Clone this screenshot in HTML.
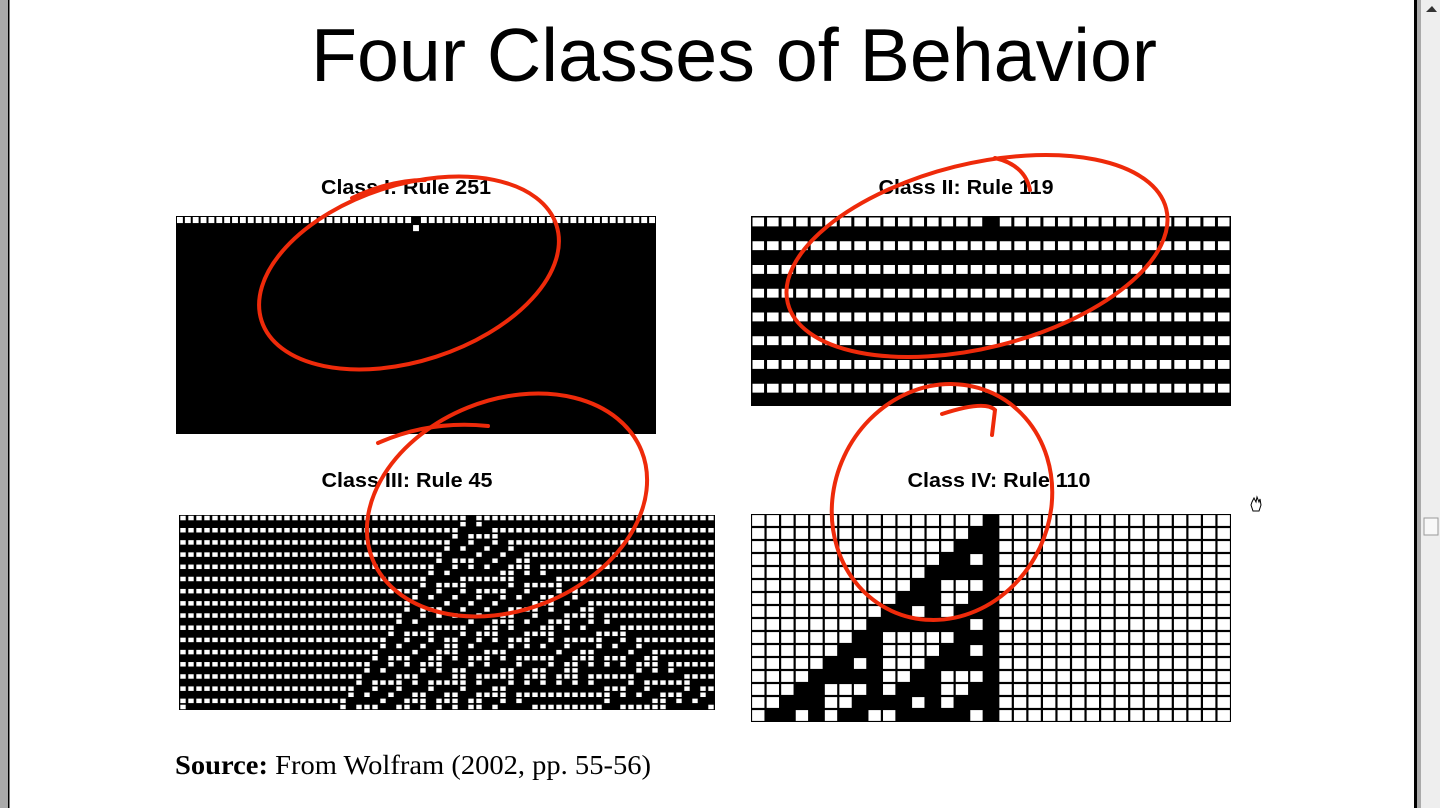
<!DOCTYPE html>
<html><head><meta charset="utf-8">
<style>
html,body{margin:0;padding:0;background:#fff;}
body{width:1440px;height:808px;position:relative;overflow:hidden;font-family:"Liberation Sans",sans-serif;}
</style></head>
<body>
<svg id="s" width="1440" height="808" xmlns="http://www.w3.org/2000/svg" style="position:absolute;left:0;top:0">
<rect x="0" y="0" width="8" height="808" fill="#aaaaaa"/>
<rect x="8" y="0" width="1.5" height="808" fill="#000"/>
<rect x="1414" y="0" width="3" height="808" fill="#000"/>
<rect x="1417" y="0" width="4" height="808" fill="#aaa"/>
<rect x="1421" y="0" width="19" height="808" fill="#eeeeee"/>
<rect x="1424" y="518" width="14" height="17" fill="#f8f8f8" stroke="#999"/>
<path d="M1426 12 L1432 6 L1437 12 Z" fill="#333"/>
<text x="734" y="81" font-size="75" text-anchor="middle" textLength="846" lengthAdjust="spacingAndGlyphs" font-family="Liberation Sans,sans-serif" fill="#000">Four Classes of Behavior</text>
<g font-weight="bold" font-size="20" text-anchor="middle" fill="#000">
<text x="406" y="194" textLength="170" lengthAdjust="spacingAndGlyphs">Class I: Rule 251</text>
<text x="966" y="194" textLength="175" lengthAdjust="spacingAndGlyphs">Class II: Rule 119</text>
<text x="407" y="487" textLength="171" lengthAdjust="spacingAndGlyphs">Class III: Rule 45</text>
<text x="999" y="487" textLength="183" lengthAdjust="spacingAndGlyphs">Class IV: Rule 110</text>
</g>
<text x="175" y="774" font-size="27" font-family="Liberation Serif,serif" textLength="476" lengthAdjust="spacingAndGlyphs"><tspan font-weight="bold">Source:</tspan> From Wolfram (2002, pp. 55-56)</text>
<g id="grids"></g>
<g fill="none" stroke="#ee2a0a" stroke-width="4" stroke-linecap="round">
<ellipse cx="409" cy="273" rx="155" ry="88" transform="rotate(-18 409 273)"/>
<path d="M352 198 Q390 180 425 180"/>
<ellipse cx="977" cy="256" rx="195" ry="92" transform="rotate(-14 977 256)"/>
<path d="M995 158 Q1025 165 1030 190"/>
<ellipse cx="507" cy="505" rx="145" ry="105" transform="rotate(-22 507 505)"/>
<path d="M378 443 Q430 420 488 426"/>
<ellipse cx="942" cy="502" rx="108" ry="120" transform="rotate(25 942 502)"/>
<path d="M942 414 Q985 400 995 410 L992 435"/>
</g>
<path d="M1252 502 l2 -4 l2 4 l1 -5 l2 5 l1 -3 l1 6 l-2 6 l-6 0 l-2 -6 z" fill="none" stroke="#000" stroke-width="1"/>
</svg>
<script>
function evolve(rule,n,rows,start){
  var g=[];var r=new Array(n).fill(0);r[start]=1;g.push(r);
  for(var t=1;t<rows;t++){var p=g[t-1],q=[];
    for(var i=0;i<n;i++){var l=i>0?p[i-1]:p[n-1],c=p[i],rr=i<n-1?p[i+1]:p[0];
      q.push((rule>>(l*4+c*2+rr))&1);}
    g.push(q);}
  return g;
}
var out=[];
function draw(g,x0,y0,w,h,cols,rows,ix,iy){
  out.push('<rect x="'+x0+'" y="'+y0+'" width="'+(w*cols)+'" height="'+(h*rows)+'" fill="#000"/>');
  for(var r=0;r<rows;r++)for(var c=0;c<cols;c++){
    if(!g[r][c]) out.push('<rect x="'+(x0+c*w+ix).toFixed(2)+'" y="'+(y0+r*h+iy).toFixed(2)+'" width="'+(w-2*ix).toFixed(2)+'" height="'+(h-2*iy).toFixed(2)+'" fill="#fff"/>');
  }
}
var g1=[];for(var r=0;r<27;r++){g1.push(new Array(61).fill(1));}
for(var c=0;c<61;c++)g1[0][c]=0;g1[0][30]=1;g1[1][30]=0;
draw(g1,176,216,480/61,218/27,61,27,1,1);
var g2=evolve(119,33,16,16);
draw(g2,751,216,480/33,190/16,33,16,1.5,1.5);
var g3=evolve(45,67,32,36);
draw(g3,179,515,536/67,195/32,67,32,1.3,0.8);
var g4=evolve(110,33,16,16);
draw(g4,751,514,480/33,208/16,33,16,1.1,1.1);
document.getElementById('grids').innerHTML=out.join('');
</script>
</body></html>
